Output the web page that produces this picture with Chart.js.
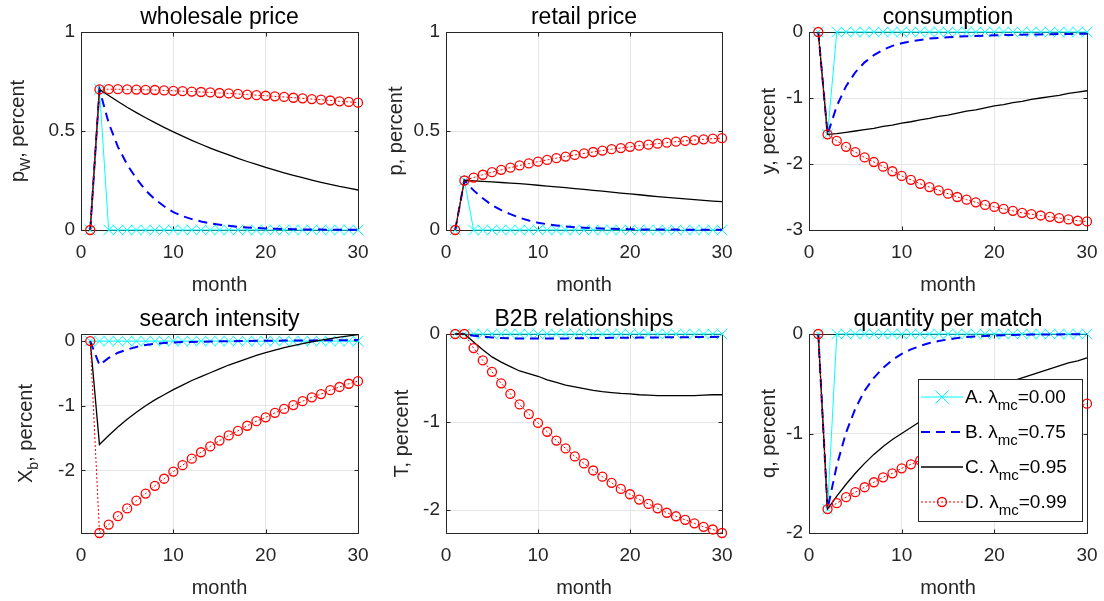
<!DOCTYPE html>
<html>
<head>
<meta charset="utf-8">
<title>impulse responses</title>
<script src="https://cdn.jsdelivr.net/npm/chart.js@4.4.0/dist/chart.umd.min.js"></script>
<style>
  body { margin: 0; background: #fff; }
  #wrap { position: relative; width: 1104px; height: 601px; overflow: hidden; background: #fff; }
  #wrap canvas { position: absolute; }
</style>
</head>
<body>
<div id="wrap"></div>
<script>
// months on the x axis
var months = [1, 2, 3, 4, 5, 6, 7, 8, 9, 10,
              11, 12, 13, 14, 15, 16, 17, 18, 19, 20,
              21, 22, 23, 24, 25, 26, 27, 28, 29, 30];
var xTicks = [0, 10, 20, 30];

// legend: A..D with lambda_mc values
var legendPrefix = ['A. \u03bb', 'B. \u03bb', 'C. \u03bb', 'D. \u03bb'];
var lambdaValues = ['=0.00', '=0.75', '=0.95', '=0.99'];

// wholesale price
var wsA = [0, 0.71, 0, 0, 0, 0, 0, 0, 0, 0,
           0, 0, 0, 0, 0, 0, 0, 0, 0, 0,
           0, 0, 0, 0, 0, 0, 0, 0, 0, 0];
var wsB = [0, 0.71, 0.54, 0.42, 0.33, 0.26, 0.20, 0.155, 0.12, 0.09,
           0.07, 0.055, 0.043, 0.034, 0.027, 0.021, 0.016, 0.013, 0.010, 0.008,
           0.006, 0.005, 0.004, 0.003, 0.002, 0.002, 0.001, 0.001, 0.001, 0.001];
var wsC = [0, 0.710, 0.679, 0.649, 0.620, 0.593, 0.567, 0.542, 0.518, 0.496,
           0.474, 0.453, 0.433, 0.414, 0.396, 0.379, 0.362, 0.346, 0.331, 0.316,
           0.302, 0.289, 0.276, 0.264, 0.252, 0.241, 0.231, 0.220, 0.211, 0.202];
var wsD = [0, 0.710, 0.711, 0.711, 0.710, 0.709, 0.708, 0.707, 0.705, 0.703,
           0.701, 0.699, 0.697, 0.695, 0.692, 0.690, 0.687, 0.684, 0.681, 0.678,
           0.675, 0.672, 0.668, 0.665, 0.661, 0.658, 0.654, 0.650, 0.647, 0.643];

// retail price
var rpA = [0, 0.25, 0, 0, 0, 0, 0, 0, 0, 0,
           0, 0, 0, 0, 0, 0, 0, 0, 0, 0,
           0, 0, 0, 0, 0, 0, 0, 0, 0, 0];
var rpB = [0, 0.25, 0.20, 0.16, 0.125, 0.10, 0.08, 0.062, 0.048, 0.037,
           0.029, 0.023, 0.018, 0.014, 0.011, 0.009, 0.007, 0.006, 0.005, 0.004,
           0.003, 0.003, 0.002, 0.002, 0.002, 0.001, 0.001, 0.001, 0.001, 0.001];
var rpC = [0, 0.250, 0.248, 0.246, 0.243, 0.240, 0.237, 0.234, 0.230, 0.226,
           0.222, 0.218, 0.214, 0.209, 0.205, 0.200, 0.196, 0.191, 0.186, 0.182,
           0.178, 0.173, 0.169, 0.165, 0.161, 0.157, 0.153, 0.150, 0.146, 0.143];
var rpD = [0, 0.250, 0.265, 0.279, 0.292, 0.304, 0.315, 0.326, 0.336, 0.345,
           0.354, 0.363, 0.371, 0.379, 0.387, 0.394, 0.401, 0.408, 0.414, 0.420,
           0.426, 0.431, 0.436, 0.441, 0.446, 0.450, 0.454, 0.458, 0.461, 0.464];

// consumption
var coA = [0, -1.55, 0, 0, 0, 0, 0, 0, 0, 0,
           0, 0, 0, 0, 0, 0, 0, 0, 0, 0,
           0, 0, 0, 0, 0, 0, 0, 0, 0, 0];
var coB = [0, -1.55, -1.12, -0.82, -0.61, -0.46, -0.35, -0.27, -0.21, -0.17,
           -0.14, -0.12, -0.10, -0.09, -0.08, -0.07, -0.065, -0.06, -0.055, -0.05,
           -0.047, -0.044, -0.041, -0.038, -0.036, -0.034, -0.032, -0.030, -0.028, -0.026];
var coC = [0, -1.55, -1.54, -1.52, -1.50, -1.48, -1.46, -1.43, -1.41, -1.38,
           -1.36, -1.33, -1.31, -1.28, -1.26, -1.23, -1.20, -1.18, -1.15, -1.12,
           -1.10, -1.07, -1.05, -1.02, -1.00, -0.98, -0.96, -0.93, -0.91, -0.89];
var coD = [0, -1.55, -1.65, -1.74, -1.82, -1.90, -1.97, -2.04, -2.11, -2.18,
           -2.24, -2.30, -2.35, -2.40, -2.45, -2.50, -2.54, -2.58, -2.62, -2.65,
           -2.68, -2.71, -2.74, -2.76, -2.78, -2.80, -2.82, -2.84, -2.86, -2.87];

// search intensity
var siA = [0, 0, 0, 0, 0, 0, 0, 0, 0, 0,
           0, 0, 0, 0, 0, 0, 0, 0, 0, 0,
           0, 0, 0, 0, 0, 0, 0, 0, 0, 0];
var siB = [0, -0.37, -0.26, -0.18, -0.13, -0.09, -0.06, -0.04, -0.03, -0.02,
           -0.015, -0.012, -0.009, -0.006, -0.004, -0.002, 0, 0.002, 0.004, 0.005,
           0.007, 0.008, 0.009, 0.010, 0.011, 0.012, 0.013, 0.014, 0.015, 0.016];
var siC = [0, -1.60, -1.46, -1.33, -1.21, -1.10, -1.00, -0.91, -0.83, -0.75,
           -0.68, -0.61, -0.55, -0.49, -0.43, -0.37, -0.32, -0.27, -0.22, -0.18,
           -0.14, -0.10, -0.07, -0.04, -0.01, 0.015, 0.04, 0.06, 0.08, 0.10];
var siD = [0, -2.97, -2.84, -2.71, -2.59, -2.47, -2.36, -2.24, -2.13, -2.02,
           -1.92, -1.82, -1.72, -1.63, -1.54, -1.46, -1.39, -1.31, -1.24, -1.18,
           -1.11, -1.05, -0.99, -0.93, -0.87, -0.82, -0.76, -0.71, -0.66, -0.62];

// B2B relationships
var brA = [0, 0, 0, 0, 0, 0, 0, 0, 0, 0,
           0, 0, 0, 0, 0, 0, 0, 0, 0, 0,
           0, 0, 0, 0, 0, 0, 0, 0, 0, 0];
var brB = [0, 0, -0.02, -0.03, -0.04, -0.045, -0.05, -0.05, -0.05, -0.05,
           -0.05, -0.05, -0.05, -0.048, -0.047, -0.046, -0.045, -0.044, -0.043, -0.042,
           -0.041, -0.040, -0.039, -0.038, -0.037, -0.036, -0.035, -0.034, -0.033, -0.032];
var brC = [0, 0, -0.09, -0.18, -0.26, -0.32, -0.37, -0.42, -0.45, -0.48,
           -0.52, -0.55, -0.58, -0.60, -0.62, -0.64, -0.655, -0.665, -0.675, -0.68,
           -0.69, -0.695, -0.70, -0.70, -0.70, -0.70, -0.70, -0.695, -0.69, -0.69];
var brD = [0, 0, -0.16, -0.30, -0.43, -0.56, -0.68, -0.80, -0.91, -1.01,
           -1.11, -1.21, -1.30, -1.39, -1.47, -1.55, -1.62, -1.69, -1.76, -1.82,
           -1.88, -1.93, -1.98, -2.03, -2.07, -2.11, -2.15, -2.19, -2.22, -2.26];

// quantity per match
var qmA = [0, -1.76, 0, 0, 0, 0, 0, 0, 0, 0,
           0, 0, 0, 0, 0, 0, 0, 0, 0, 0,
           0, 0, 0, 0, 0, 0, 0, 0, 0, 0];
var qmB = [0, -1.76, -1.32, -0.99, -0.75, -0.57, -0.44, -0.34, -0.26, -0.20,
           -0.155, -0.12, -0.09, -0.07, -0.055, -0.04, -0.03, -0.025, -0.02, -0.015,
           -0.012, -0.010, -0.008, -0.006, -0.005, -0.004, -0.004, -0.003, -0.003, -0.003];
var qmC = [0, -1.76, -1.63, -1.51, -1.40, -1.30, -1.21, -1.13, -1.06, -1.00,
           -0.94, -0.88, -0.83, -0.78, -0.73, -0.69, -0.65, -0.61, -0.57, -0.54,
           -0.50, -0.47, -0.44, -0.41, -0.38, -0.35, -0.32, -0.29, -0.27, -0.24];
var qmD = [0, -1.76, -1.70, -1.64, -1.59, -1.54, -1.49, -1.44, -1.40, -1.35,
           -1.31, -1.27, -1.23, -1.19, -1.15, -1.12, -1.08, -1.05, -1.02, -0.99,
           -0.96, -0.93, -0.90, -0.87, -0.84, -0.81, -0.78, -0.76, -0.73, -0.70];

var FONT = '"Liberation Sans", Arial, Helvetica, sans-serif';
var INK = '#262626';

// panels, row by row
var panels = [
  { title: 'wholesale price', ylab: [{t: 'p'}, {t: 'W', sub: true}, {t: ', percent'}],
    series: [wsA, wsB, wsC, wsD], ymin: 0, ymax: 1, yTicks: [0, 0.5, 1] },
  { title: 'retail price', ylab: [{t: 'p, percent'}],
    series: [rpA, rpB, rpC, rpD], ymin: 0, ymax: 1, yTicks: [0, 0.5, 1] },
  { title: 'consumption', ylab: [{t: 'y, percent'}],
    series: [coA, coB, coC, coD], ymin: -3, ymax: 0, yTicks: [-3, -2, -1, 0] },
  { title: 'search intensity', ylab: [{t: 'X'}, {t: 'b', sub: true}, {t: ', percent'}],
    series: [siA, siB, siC, siD], ymin: -2.97, ymax: 0.11, yTicks: [-2, -1, 0] },
  { title: 'B2B relationships', ylab: [{t: 'T, percent'}],
    series: [brA, brB, brC, brD], ymin: -2.26, ymax: 0, yTicks: [-2, -1, 0] },
  { title: 'quantity per match', ylab: [{t: 'q, percent'}],
    series: [qmA, qmB, qmC, qmD], ymin: -2, ymax: 0, yTicks: [-2, -1, 0], legend: true }
];

// page layout of the plot boxes
var colLeft = [81, 446, 809], colWidth = [277, 276, 278];
var rowTop = [32, 334], rowHeight = [198, 199];
var ylabOffset = [57, 44, 34, 49, 38, 34];
var PAD_TOP = 32, PAD_RIGHT = 22, Y_AXIS_W = 81, X_AXIS_H = 68;

function pts(vals) {
  return months.map(function(m, i) { return {x: m, y: vals[i]}; });
}

var styles = [
  { borderColor: '#00ffff', borderWidth: 1, pointStyle: 'crossRot', pointRadius: 7.5,
    pointBorderColor: '#00ffff', pointBorderWidth: 1, order: 4 },
  { borderColor: '#0000ff', borderWidth: 2, borderDash: [9, 6], pointRadius: 0, order: 3 },
  { borderColor: '#000000', borderWidth: 1.3, pointRadius: 0, order: 2 },
  { borderColor: '#ff0000', borderWidth: 1, borderDash: [2, 2], pointStyle: 'circle', pointRadius: 4.5,
    pointBorderColor: '#ff0000', pointBorderWidth: 1.3, order: 1 }
];

function runsWidth(ctx, runs, size, subSize) {
  var w = 0;
  runs.forEach(function(r) {
    ctx.font = (r.sub ? subSize : size) + 'px ' + FONT;
    w += ctx.measureText(r.t).width;
  });
  return w;
}

function drawRuns(ctx, runs, x, y, size, subSize, drop) {
  runs.forEach(function(r) {
    ctx.font = (r.sub ? subSize : size) + 'px ' + FONT;
    ctx.fillText(r.t, x, r.sub ? y + drop : y);
    x += ctx.measureText(r.t).width;
  });
}

function drawSample(ctx, i, x0, x1, y) {
  var s = styles[i];
  ctx.save();
  ctx.strokeStyle = s.borderColor;
  ctx.lineWidth = s.borderWidth;
  ctx.setLineDash(s.borderDash || []);
  ctx.beginPath(); ctx.moveTo(x0, y); ctx.lineTo(x1, y); ctx.stroke();
  ctx.setLineDash([]);
  var cx = (x0 + x1) / 2;
  if (i === 0) {
    var r = 9.5 * Math.SQRT1_2;
    ctx.beginPath();
    ctx.moveTo(cx - r, y - r); ctx.lineTo(cx + r, y + r);
    ctx.moveTo(cx - r, y + r); ctx.lineTo(cx + r, y - r);
    ctx.stroke();
  }
  if (i === 3) {
    ctx.lineWidth = 1.3;
    ctx.beginPath(); ctx.arc(cx, y, 4.5, 0, Math.PI * 2); ctx.stroke();
  }
  ctx.restore();
}

function decor(p, k) {
  return {
    id: 'decor',
    beforeDatasetsDraw: function(chart) {
      var ctx = chart.ctx, a = chart.chartArea;
      var L = Math.round(a.left) + 0.5, R = Math.round(a.right) + 0.5;
      var T = Math.round(a.top) + 0.5, B = Math.round(a.bottom) + 0.5;
      ctx.save();
      ctx.strokeStyle = INK;
      ctx.lineWidth = 1;
      ctx.strokeRect(L, T, R - L, B - T);
      // inward tick marks on all four sides
      ctx.beginPath();
      xTicks.forEach(function(v) {
        var px = Math.round(chart.scales.x.getPixelForValue(v)) + 0.5;
        ctx.moveTo(px, B); ctx.lineTo(px, B - 4);
        ctx.moveTo(px, T); ctx.lineTo(px, T + 4);
      });
      p.yTicks.forEach(function(v) {
        var py = Math.round(chart.scales.y.getPixelForValue(v)) + 0.5;
        ctx.moveTo(L, py); ctx.lineTo(L + 4, py);
        ctx.moveTo(R, py); ctx.lineTo(R - 4, py);
      });
      ctx.stroke();
      ctx.restore();
    },
    afterDraw: function(chart) {
      var ctx = chart.ctx, a = chart.chartArea;
      var cx = (a.left + a.right) / 2, cy = (a.top + a.bottom) / 2;
      ctx.save();
      ctx.textBaseline = 'alphabetic';
      ctx.textAlign = 'center';
      // title
      ctx.fillStyle = '#000';
      ctx.font = '23px ' + FONT;
      ctx.fillText(p.title, cx, a.top - 8);
      // x label
      ctx.fillStyle = INK;
      ctx.font = '20px ' + FONT;
      ctx.fillText('month', cx, a.bottom + 61);
      // y label, rotated
      ctx.textAlign = 'left';
      ctx.save();
      ctx.translate(a.left - ylabOffset[k], cy);
      ctx.rotate(-Math.PI / 2);
      var w = runsWidth(ctx, p.ylab, 20, 14);
      drawRuns(ctx, p.ylab, -w / 2, 0, 20, 14, 6);
      ctx.restore();
      // legend box
      if (p.legend) {
        var right = a.right - 5, left = right - 164, top = a.top + 45, h = 142;
        ctx.fillStyle = '#fff';
        ctx.fillRect(left, top, right - left, h);
        ctx.strokeStyle = INK;
        ctx.lineWidth = 1;
        ctx.strokeRect(Math.round(left) + 0.5, Math.round(top) + 0.5, right - left, h);
        for (var i = 0; i < 4; i++) {
          var ry = top + 18 + 35 * i;
          drawSample(ctx, i, left + 3, left + 45, ry);
          ctx.fillStyle = '#000';
          drawRuns(ctx, [{t: legendPrefix[i]}, {t: 'mc', sub: true}, {t: lambdaValues[i]}],
                   left + 47, ry + 6, 19, 15, 7);
        }
      }
      ctx.restore();
    }
  };
}

var wrap = document.getElementById('wrap');

panels.forEach(function(p, k) {
  var col = k % 3, row = Math.floor(k / 3);
  var cv = document.createElement('canvas');
  cv.width = Y_AXIS_W + colWidth[col] + PAD_RIGHT;
  cv.height = PAD_TOP + rowHeight[row] + X_AXIS_H;
  cv.style.left = (colLeft[col] - Y_AXIS_W) + 'px';
  cv.style.top = (rowTop[row] - PAD_TOP) + 'px';
  wrap.appendChild(cv);

  var datasets = p.series.map(function(vals, i) {
    return Object.assign({
      label: legendPrefix[i] + 'mc' + lambdaValues[i],
      data: pts(vals),
      tension: 0,
      fill: false,
      clip: false,
      pointBackgroundColor: 'rgba(0,0,0,0)',
      pointHoverRadius: styles[i].pointRadius
    }, styles[i]);
  });

  new Chart(cv, {
    type: 'line',
    data: { datasets: datasets },
    options: {
      responsive: false,
      animation: false,
      devicePixelRatio: 1,
      events: [],
      layout: { padding: { top: PAD_TOP, right: PAD_RIGHT, left: 0, bottom: 0 } },
      plugins: { legend: { display: false }, tooltip: { enabled: false }, title: { display: false } },
      scales: {
        x: {
          type: 'linear', min: 0, max: 30,
          afterBuildTicks: function(s) { s.ticks = xTicks.map(function(v) { return {value: v}; }); },
          afterFit: function(s) { s.height = X_AXIS_H; },
          grid: { color: '#e6e6e6', drawTicks: false },
          border: { display: false },
          ticks: { color: INK, padding: 11, maxRotation: 0, autoSkip: false,
                   font: { family: FONT, size: 19 },
                   callback: function(v) { return String(v); } }
        },
        y: {
          type: 'linear', min: p.ymin, max: p.ymax,
          afterBuildTicks: function(s) { s.ticks = p.yTicks.map(function(v) { return {value: v}; }); },
          afterFit: function(s) { s.width = Y_AXIS_W; },
          grid: { color: '#e6e6e6', drawTicks: false },
          border: { display: false },
          ticks: { color: INK, padding: 6, autoSkip: false,
                   font: { family: FONT, size: 19 },
                   callback: function(v) { return String(v); } }
        }
      }
    },
    plugins: [decor(p, k)]
  });
});
</script>
</body>
</html>
